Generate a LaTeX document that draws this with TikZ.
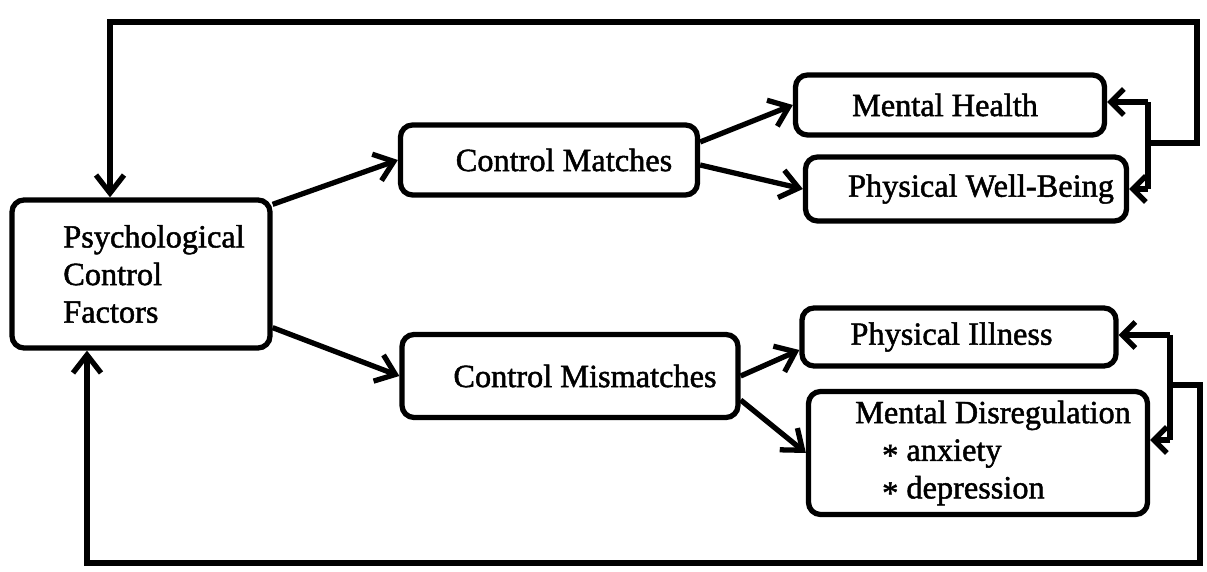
\documentclass[tikz,border=0pt]{standalone}
\usepackage{fontspec}
\setmainfont{Liberation Serif}
\newfontfamily\boxfont{Liberation Serif}[FakeBold=1.5]
\usetikzlibrary{arrows.meta}

\begin{document}
\begin{tikzpicture}[
  box/.style={draw, line width=1.5pt, rounded corners=1.2mm, inner sep=0pt, font=\boxfont\fontsize{9.2}{10.7}\selectfont},
  arr/.style={line width=1.5pt, -{Straight Barb[length=1.8mm,width=2.8mm]}},
  short/.style={line width=1.5pt, -{Straight Barb[length=1.3mm,width=2.6mm]}}]
\useasboundingbox (0,0) rectangle (12.07,5.72);

\node [box, align=left, minimum width=2.58cm, minimum height=1.48cm] (psy) at (1.41,2.98)
  {\hspace*{2.6mm}Psychological\\\hspace*{2.6mm}Control\\\hspace*{2.6mm}Factors};
\node [box, minimum width=2.97cm, minimum height=0.70cm] (match) at (5.49,4.12) {\hspace*{3mm}Control Matches};
\node [box, minimum width=3.36cm, minimum height=0.83cm] (mis) at (5.70,1.96) {\hspace*{3mm}Control Mismatches};
\node [box, minimum width=3.09cm, minimum height=0.60cm] (mh) at (9.50,4.67) {Mental Health\hspace*{1mm}};
\node [box, minimum width=3.21cm, minimum height=0.64cm] (pwb) at (9.66,3.83) {\hspace*{3mm}Physical Well-Being};
\node [box, minimum width=3.14cm, minimum height=0.58cm] (pi) at (9.59,2.35) {Physical Illness\hspace*{1.5mm}};
\node [box, align=left, minimum width=3.39cm, minimum height=1.23cm] (md) at (9.78,1.19)
  {\hspace*{3mm}Mental Disregulation\\\hspace*{5.7mm}\raisebox{-0.35ex}{*} anxiety\\\hspace*{5.7mm}\raisebox{-0.35ex}{*} depression};

\draw [arr] ([yshift=-0.07cm]psy.north east)--(match.west);
\draw [arr] ([yshift=0.23cm]psy.south east)--(mis.west);
\draw [arr] ([yshift=0.18cm]match.east)--(mh.west);
\draw [arr] ([yshift=-0.05cm]match.east)--(pwb.west);
\draw [arr] (mis.east)--([yshift=-0.13cm]pi.west);
\draw [arr] ([yshift=-0.24cm]mis.east)--(md.west);

\coordinate (topa) at (11.48,4.70);
\coordinate (topb) at (11.48,3.83);
\coordinate (topjoin) at (11.48,4.29);
\coordinate (topright) at (11.97,5.50);
\draw [line width=1.5pt] (topa)--(topb);
\draw [short] (topa)--(mh.east |- topa);
\draw [short] (topb)--(pwb.east);
\draw [arr] (topjoin) -| (topright) -| ([xshift=-3.1mm]psy.north);

\coordinate (bota) at (11.70,2.37);
\coordinate (botb) at (11.70,1.32);
\coordinate (botjoin) at (11.70,1.87);
\coordinate (botright) at (12.00,0.09);
\draw [line width=1.5pt] (bota)--(botb);
\draw [short] (bota)--(pi.east |- bota);
\draw [short] (botb)--(md.east |- botb);
\draw [arr] (botjoin) -| (botright) -| ([xshift=-5.4mm]psy.south);

\end{tikzpicture}
\end{document}
